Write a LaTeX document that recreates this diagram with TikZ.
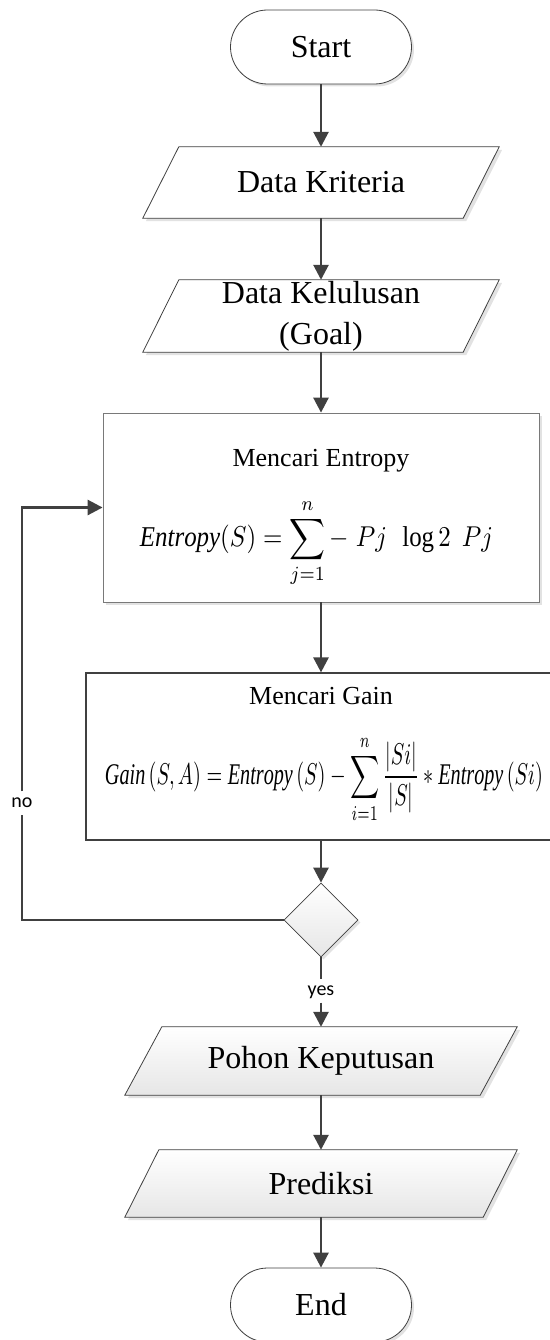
\documentclass[tikz,border=0pt]{standalone}
\usepackage{fontspec}
\setmainfont{Liberation Serif}
\newfontfamily\lblfont{Carlito}
\usepackage{graphicx}
\usetikzlibrary{shapes.geometric,arrows.meta,calc,shadows}
\definecolor{ln}{HTML}{404040}
\definecolor{shd}{HTML}{E2E2E2}
\definecolor{grad}{HTML}{E6E6E6}
\pgfdeclarelayer{bg}
\pgfsetlayers{bg,main}
\tikzset{
 conn/.style={draw=ln, line width=2.7pt},
 flow/.style={conn, -{Triangle[length=15pt,width=15pt]}},
 softshadow/.style={drop shadow={fill=shd, shadow xshift=2.5pt, shadow yshift=-2.5pt, opacity=1}},
 terminal/.style={draw=ln, line width=0.8pt, fill=white, rounded corners=37pt, minimum width=181pt, minimum height=74pt, inner sep=0pt, font=\fontsize{32}{36}\selectfont, softshadow},
 iotext/.style={inner sep=0pt, font=\fontsize{32}{41}\selectfont, align=center},
 ioshape/.style={draw=ln, line width=0.8pt},
 procbox/.style={draw=ln!70, line width=0.8pt, fill=white, inner sep=0pt},
 title/.style={font=\fontsize{26}{30}\selectfont, inner sep=0pt},
 lbl/.style={fill=white, font=\lblfont\fontsize{20}{24}\selectfont, inner sep=3pt, text height=13pt, text depth=4pt},
 decision/.style={diamond, draw=ln, line width=0.8pt, minimum width=74pt, minimum height=74pt, inner sep=0pt, top color=white, bottom color=grad, softshadow}
}
\begin{document}
\begin{tikzpicture}[x=1pt,y=-1pt]
\useasboundingbox (0,0) rectangle (549,1340);

% nodes
\node[terminal] (start) at (321,47) {Start};
\node[iotext, minimum width=356pt, minimum height=71pt] (dk) at (321,182.5) {Data Kriteria};
\node[iotext, minimum width=356pt, minimum height=72pt] (dkl) at (321,316) {Data Kelulusan\\(Goal)};
\node[procbox, minimum width=436pt, minimum height=189pt, softshadow] (entropy) at (321,507.5) {};
\node[title] (enttitle) at (321,461) {Mencari Entropy};
\node[inner sep=0pt] (entf) at (316.5,543) {\resizebox*{353pt}{88pt}{$\displaystyle \mathit{Entropy}(S) = \sum_{j=1}^{n} -\; Pj\;\, \log 2\;\, Pj$}};
\node[procbox, draw=ln, line width=1.2pt, minimum width=469pt, minimum height=167pt] (gain) at (320.5,756.5) {};
\node[title] (gaintitle) at (321,696) {Mencari Gain};
\node[inner sep=0pt] (gainf) at (324,779) {\resizebox*{438pt}{88pt}{$\displaystyle \mathit{Gain}\,(S,A) = \mathit{Entropy}\,(S) - \sum_{i=1}^{n}\frac{|Si|}{|S|} * \mathit{Entropy}\,(Si)$}};
\node[decision] (dec) at (321,920) {};
\node[iotext, minimum width=392pt, minimum height=68pt] (pohon) at (321,1061) {Pohon Keputusan};
\node[iotext, minimum width=392pt, minimum height=67pt] (pred) at (321,1183.5) {Prediksi};
\node[terminal] (end) at (321,1305) {End};
\node[lbl] (no) at (22,803) {no};
\node[lbl] (yes) at (321,991) {yes};

% parallelogram outlines
\begin{pgfonlayer}{bg}
\foreach \n/\s/\f in {dk/36/white, dkl/36/white, pohon/37/grad, pred/34/grad} {
  \fill[shd] ($(\n.north west)+(\s+3,3)$) -- ($(\n.north east)+(3,3)$) -- ($(\n.south east)+(3-\s,3)$) -- ($(\n.south west)+(3,3)$) -- cycle;
  \draw[ioshape, top color=white, bottom color=\f] ($(\n.north west)+(\s,0)$) -- (\n.north east) -- ($(\n.south east)+(-\s,0)$) -- (\n.south west) -- cycle;
}
\end{pgfonlayer}

% connectors
\draw[flow] (start.south) -- (dk.north);
\draw[flow] (dk.south) -- (dkl.north);
\draw[flow] (dkl.south) -- (entropy.north);
\draw[flow] (entropy.south) -- (entropy.south |- gain.north);
\draw[flow] (entropy.south |- gain.south) -- (dec.north);
\draw[conn] (dec.south) -- (yes.north);
\draw[flow] (yes.south) -- (pohon.north);
\draw[flow] (pohon.south) -- (pred.north);
\draw[flow] (pred.south) -- (end.north);
\draw[conn] (dec.west) -| (no.south);
\draw[flow] (no.north) |- (entropy.west);
\end{tikzpicture}
\end{document}
